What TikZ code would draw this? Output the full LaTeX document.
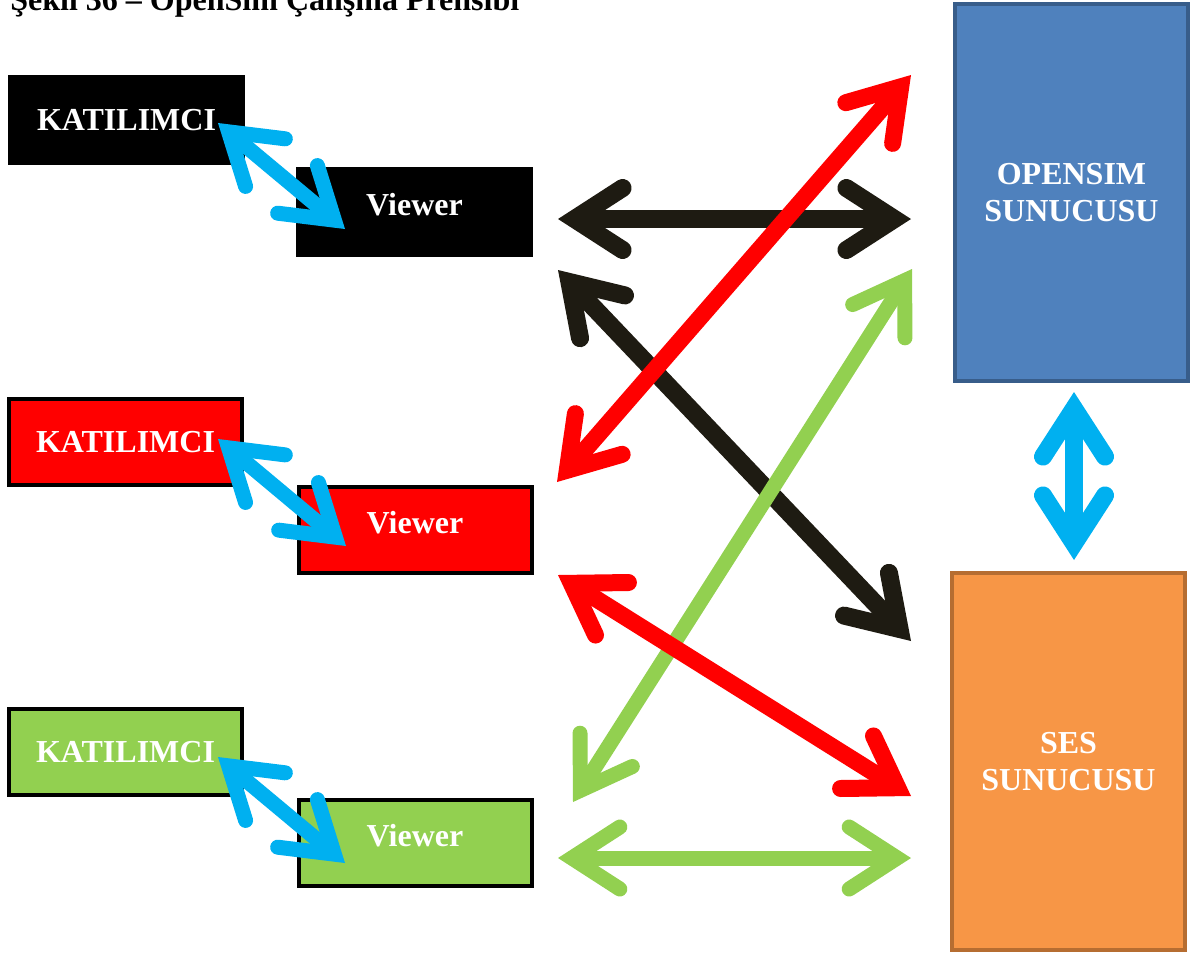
\documentclass[tikz,border=0pt]{standalone}
\usepackage{fontspec}
\setmainfont{Liberation Serif}
\usetikzlibrary{arrows.meta}
\definecolor{grn}{HTML}{92D050}
\definecolor{sky}{HTML}{00B0F0}
\definecolor{ink}{HTML}{1E1B12}
\definecolor{osblue}{HTML}{4F81BD}
\definecolor{osedge}{HTML}{385D8A}
\definecolor{sesorange}{HTML}{F79646}
\definecolor{sesedge}{HTML}{B66D31}
\begin{document}
\begin{tikzpicture}[x=0.5pt,y=-0.5pt,
	box/.style={rectangle, draw=black, line width=2pt, minimum width=116.5pt, minimum height=43pt, inner sep=0pt, text=white, align=center, font=\bfseries\fontsize{16}{18.5}\selectfont},
	viewer/.style={box, text depth=7.5pt},
	server/.style={box, minimum height=188.5pt},
	barb/.tip={Straight Barb[length=24pt, width=31pt, line cap=round, line join=miter]},
	link/.style={line width=#1, barb-barb}]
	\useasboundingbox (0,0) rectangle (1194,955);

	%Title
	\node[anchor=base west, inner sep=0pt, font=\bfseries\fontsize{16}{19}\selectfont] (title) at (10,10) {Şekil 36 – OpenSim Çalışma Prensibi};

	%Nodes
	\node[box, fill=black]	(k1)	at (126.5,120) {KATILIMCI};
	\node[viewer, fill=black]	(v1)	at (414.5,211.5) {Viewer};
	\node[box, fill=red]	(k2)	at (125.5,442) {KATILIMCI};
	\node[viewer, fill=red]	(v2)	at (415,530) {Viewer};
	\node[box, fill=grn]	(k3)	at (125.5,752) {KATILIMCI};
	\node[viewer, fill=grn]	(v3)	at (415,842.5) {Viewer};
	\node[server, fill=osblue, draw=osedge]	(os)	at (1071.5,192.5) {OPENSIM\\SUNUCUSU};
	\node[server, fill=sesorange, draw=sesedge]	(ses)	at (1068.5,761.5) {SES\\SUNUCUSU};

	%Arrow ends
	\coordinate (k1a) at (218,123);	\coordinate (v1a) at (345,229);
	\coordinate (k2a) at (218,439);	\coordinate (v2a) at (346,546);
	\coordinate (k3a) at (218,757);	\coordinate (v3a) at (345,863);
	\coordinate (v1r) at (558,219);	\coordinate (os1) at (911,219);
	\coordinate (v1d) at (558,270);	\coordinate (ses1) at (911,641);
	\coordinate (v2u) at (557,482);	\coordinate (os2) at (911,75);
	\coordinate (v2d) at (558,575);	\coordinate (ses2) at (911,796);
	\coordinate (v3u) at (573,802);	\coordinate (os3) at (912,269);
	\coordinate (v3r) at (558,858);	\coordinate (ses3) at (911,858);
	\coordinate (osb) at (1074,392);	\coordinate (sest) at (1074,560);

	%Lines
	\draw[link=7.5pt, sky] (k1a) -- (v1a);
	\draw[link=7.5pt, sky] (k2a) -- (v2a);
	\draw[link=7.5pt, sky] (k3a) -- (v3a);
	\draw[link=9pt, ink] (v1r) -- (os1);
	\draw[link=9pt, ink] (v1d) -- (ses1);
	\draw[link=8.5pt, red] (v2u) -- (os2);
	\draw[link=7.5pt, grn] (v3u) -- (os3);
	\draw[link=8.5pt, red] (v2d) -- (ses2);
	\draw[link=7.5pt, grn] (v3r) -- (ses3);
	\draw[link=9pt, sky] (osb) -- (sest);
\end{tikzpicture}
\end{document}
